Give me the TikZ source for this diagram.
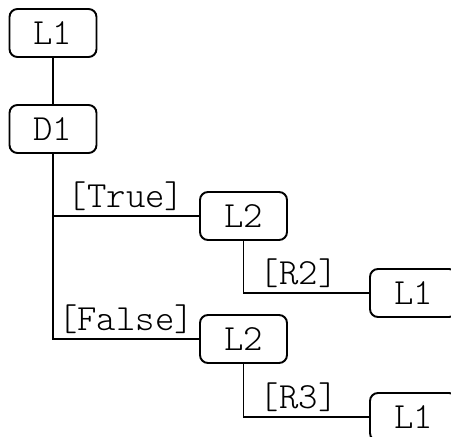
\documentclass[tikz,border=0pt]{standalone}
\usepackage{fontspec}
\setmonofont{Latin Modern Mono Light}
\usepackage{tikz}
\usetikzlibrary{positioning, calc}
\tikzset{
    block/.style={rectangle, rounded corners=0.16cm, draw=black, line width=1.1pt, minimum width=1.74cm, minimum height=0.96cm, text centered, font=\ttfamily\fontsize{21}{24}\selectfont},
    link/.style={line width=1.1pt},
    guard/.style={font=\ttfamily\fontsize{21}{24}\selectfont, inner sep=2.5pt}
}
\begin{document}
\begin{tikzpicture}
    % Canvas
    \clip (0,0) rectangle (9.02,8.74);
    \useasboundingbox (0,0) rectangle (9.02,8.74);

    % Blocks
    \node[block] (top) at (1.06, 8.08) {L1};
    \node[block] (dec) at (1.06, 6.16) {D1};
    \node[block] (trueL) at (4.87, 4.42) {L2};
    \node[block] (trueR) at (8.27, 2.88) {L1};
    \node[block] (falseL) at (4.87, 1.96) {L2};
    \node[block] (falseR) at (8.27, 0.40) {L1};

    % Links
    \draw[link] (top) -- (dec);
    \draw[link] (dec.south) |- node[guard, pos=0.75, above] {[True]} (trueL.west);
    \draw[link] (dec.south) |- node[guard, pos=0.75, above] {[False]} (falseL.west);
    \draw[link] (trueL.south) |- node[guard, pos=0.72, above] {[R2]} (trueR.west);
    \draw[link] (falseL.south) |- node[guard, pos=0.72, above] {[R3]} (falseR.west);
\end{tikzpicture}
\end{document}
